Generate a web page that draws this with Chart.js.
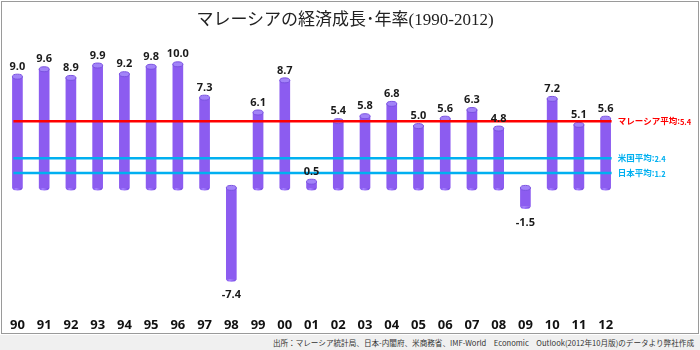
<!DOCTYPE html>
<html lang="ja">
<head>
<meta charset="utf-8">
<title>マレーシアの経済成長・年率</title>
<script src="https://cdn.jsdelivr.net/npm/chart.js@4.4.1/dist/chart.umd.min.js"></script>
<style>
  body { margin: 0; background: #fff; }
  .frame {
    position: absolute; left: 1px; top: 1px;
    width: 696px; height: 331px;
    border: 1px solid #9a9a9a;
  }
  .title {
    position: absolute; left: 0; top: 8px; width: 690px;
    text-align: center;
    font: 17px "Liberation Serif", "Noto Sans CJK JP", serif;
    line-height: 24px; color: #222;
  }
  .source {
    position: absolute; left: 0; top: 335px;
    width: 694px; height: 15px; padding-right: 6px;
    background: #f0f0f0;
    font: 7.6px "Noto Sans CJK JP", sans-serif;
    color: #333; text-align: right; line-height: 15px;
  }
</style>
</head>
<body>
<div class="frame"><canvas id="growthChart" width="696" height="331"></canvas></div>
<div class="title">マレーシアの経済成長･年率(1990-2012)</div>
<div class="source">出所：マレーシア統計局、日本-内閣府、米商務省、IMF-World　Economic　Outlook(2012年10月版)のデータより弊社作成</div>
<script>
const years = ["90", "91", "92", "93", "94", "95", "96", "97", "98", "99", "00", "01",
  "02", "03", "04", "05", "06", "07", "08", "09", "10", "11", "12"];
const growth = [9.0, 9.6, 8.9, 9.9, 9.2, 9.8, 10.0, 7.3, -7.4, 6.1, 8.7, 0.5,
  5.4, 5.8, 6.8, 5.0, 5.6, 6.3, 4.8, -1.5, 7.2, 5.1, 5.6];
const avgNames = ["マレーシア平均", "米国平均", "日本平均"];
const avgValues = [5.4, 2.4, 1.2];
const avgColors = ["#ff0000", "#00b0f0", "#00b0f0"];

function cylGradient(c, x, w) {
  const g = c.createLinearGradient(x - w / 2, 0, x + w / 2, 0);
  g.addColorStop(0, "#7c4fe6");
  g.addColorStop(0.35, "#a57fff");
  g.addColorStop(1, "#7446df");
  return g;
}

// cylinder caps + average lines + value labels
const cylinderPlugin = {
  id: "cylinder",
  afterDatasetsDraw(chart) {
    const ctx = chart.ctx;
    const meta = chart.getDatasetMeta(0);
    meta.data.forEach((bar) => {
      const w = bar.width;
      const top = Math.min(bar.y, bar.base);
      const bottom = Math.max(bar.y, bar.base);
      ctx.save();
      ctx.fillStyle = cylGradient(ctx, bar.x, w);
      ctx.beginPath();
      ctx.ellipse(bar.x, bottom, w / 2, 2.5, 0, 0, Math.PI);
      ctx.fill();
      ctx.fillStyle = "#a283f8";
      ctx.strokeStyle = "#7a52e0";
      ctx.lineWidth = 1;
      ctx.beginPath();
      ctx.ellipse(bar.x, top, w / 2, 2.5, 0, 0, Math.PI * 2);
      ctx.fill();
      ctx.stroke();
      ctx.restore();
    });

    const xs = chart.scales.x;
    const ys = chart.scales.y;
    const x0 = xs.getPixelForValue(0) - 4;
    const x1 = xs.getPixelForValue(years.length - 1) + 6;
    avgValues.forEach((v, i) => {
      const y = ys.getPixelForValue(v);
      ctx.save();
      ctx.strokeStyle = avgColors[i];
      ctx.lineWidth = 2.5;
      ctx.beginPath();
      ctx.moveTo(x0, y);
      ctx.lineTo(x1, y);
      ctx.stroke();
      ctx.fillStyle = avgColors[i];
      ctx.textBaseline = "middle";
      ctx.font = "bold 8.5px 'Noto Sans CJK JP'";
      const name = avgNames[i] + ":";
      ctx.fillText(name, x1 + 6, y);
      const nw = ctx.measureText(name).width;
      ctx.font = "bold 7.5px 'Noto Sans CJK JP'";
      ctx.fillText(v.toFixed(1), x1 + 6 + nw, y + 1);
      ctx.restore();
    });

    ctx.save();
    ctx.font = "bold 11px 'Open Sans', sans-serif";
    ctx.fillStyle = "#1a1a1a";
    ctx.textAlign = "center";
    ctx.textBaseline = "middle";
    meta.data.forEach((bar, i) => {
      const v = growth[i];
      const y = v >= 0 ? bar.y - 10 : bar.y + 16;
      ctx.fillText(v.toFixed(1), bar.x, y);
    });
    ctx.restore();
  }
};

const barFill = (context) => {
  const bar = context.element;
  if (!bar || !Number.isFinite(bar.x) || !Number.isFinite(bar.width)) return "#8c5cf0";
  return cylGradient(context.chart.ctx, bar.x, bar.width);
};

const ctx = document.getElementById("growthChart");
new Chart(ctx, {
  type: "bar",
  data: {
    labels: years,
    datasets: [
      {
        label: "成長率",
        data: growth,
        backgroundColor: barFill,
        borderWidth: 0,
        barThickness: 10,
      },
    ],
  },
  options: {
    responsive: false,
    animation: false,
    layout: { padding: { left: -5, right: 79, top: 45, bottom: 0 } },
    plugins: {
      legend: { display: false },
      tooltip: { enabled: false },
    },
    scales: {
      x: {
        grid: { display: false, drawTicks: false },
        border: { display: false },
        afterFit(scale) {
          scale.height = 24;
        },
        ticks: {
          color: "#111",
          padding: 8,
          font: { family: "'Open Sans', sans-serif", size: 13, weight: "bold" },
        },
      },
      y: {
        display: false,
        min: -9.8,
        max: 11.4,
      },
    },
  },
  plugins: [cylinderPlugin],
});
</script>
</body>
</html>
